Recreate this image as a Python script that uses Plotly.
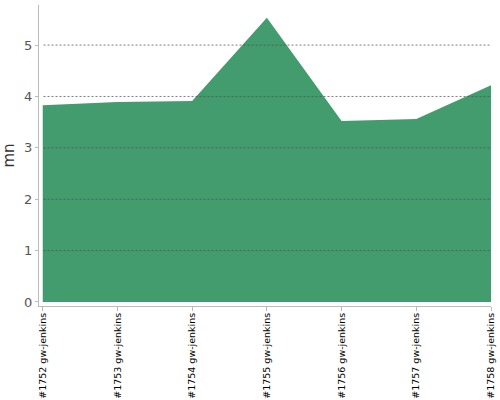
import plotly.graph_objects as go

builds = ["#1752 gw-jenkins", "#1753 gw-jenkins", "#1754 gw-jenkins", "#1755 gw-jenkins",
          "#1756 gw-jenkins", "#1757 gw-jenkins", "#1758 gw-jenkins"]
minutes = [3.83, 3.89, 3.91, 5.53, 3.52, 3.56, 4.22]
y_ticks = [0, 1, 2, 3, 4, 5]

fig = go.Figure()
fig.add_trace(go.Scatter(
    x=list(range(len(builds))), y=minutes,
    mode="lines", line=dict(width=0, color="#439c6d"),
    fill="tozeroy", fillcolor="#439c6d",
    hoverinfo="x+y", showlegend=False,
))

# dashed grid drawn over the area, like the original
for t in y_ticks[1:]:
    fig.add_shape(type="line", xref="paper", x0=0.01, x1=1, yref="y", y0=t, y1=t,
                  line=dict(color="rgba(80,80,80,0.75)", width=1, dash="2px,2px"),
                  layer="above")

fig.update_layout(
    width=500, height=400,
    margin=dict(l=39, r=9, t=5, b=94),
    plot_bgcolor="white", paper_bgcolor="white",
    font=dict(family="DejaVu Sans", color="#444"),
)
fig.update_xaxes(
    range=[-0.05, 6.0], automargin=False,
    tickmode="array", tickvals=list(range(len(builds))), ticktext=builds,
    tickangle=-90, tickfont=dict(size=9.5, color="black"),
    ticks="outside", ticklen=4, tickcolor="#bbb", ticklabelstandoff=-2,
    showline=True, linecolor="#bbb", linewidth=1,
    showgrid=False, zeroline=False,
)
fig.update_yaxes(
    range=[-0.078, 5.78], automargin=False,
    tickvals=y_ticks, tickfont=dict(size=13, color="#555"),
    ticks="outside", ticklen=3, tickcolor="#bbb",
    showline=True, linecolor="#bbb", linewidth=1,
    showgrid=False, zeroline=False,
    title=dict(text="mn", font=dict(size=15, color="#333"), standoff=8),
)

fig.write_html("out.html", config={"displayModeBar": False},
               post_script="document.body.style.margin='0';")
